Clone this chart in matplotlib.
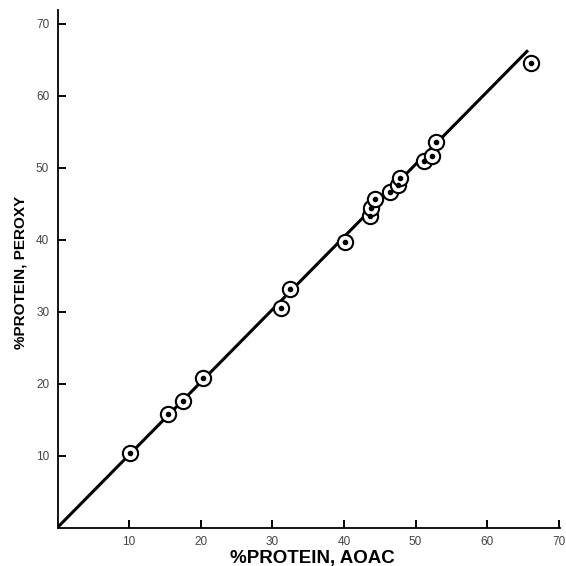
import numpy as np
import matplotlib
matplotlib.use("Agg")
import matplotlib.pyplot as plt

# % protein by AOAC method vs peroxy method
aoac = [10.1, 15.4, 17.5, 20.3, 31.2, 32.4, 40.2, 43.6, 43.8, 44.4,
        46.5, 47.6, 47.8, 51.2, 52.3, 52.8, 66.1]
peroxy = [10.3, 15.8, 17.6, 20.8, 30.5, 33.2, 39.7, 43.3, 44.4, 45.6,
          46.6, 47.6, 48.6, 50.9, 51.6, 53.6, 64.6]

fit_x = [0, 65.7]
fit_y = [0, 66.3]

ticks = [10, 20, 30, 40, 50, 60, 70]

plt.rcParams['font.family'] = ['Liberation Sans', 'DejaVu Sans']

fig = plt.figure(figsize=(5.66, 5.66), dpi=100)
ax = fig.add_axes([57.5/566, 1-527.5/566, 502/566, 517.5/566])

ax.plot(fit_x, fit_y, color='black', lw=2.2, solid_capstyle='butt', zorder=2)
ax.plot(aoac, peroxy, 'o', ms=11, mfc='white', mec='black', mew=1.5, zorder=3)
ax.plot(aoac, peroxy, 'o', ms=3, color='black', zorder=4)

ax.set_xlim(0, 70.1)
ax.set_ylim(0, 71.9)
ax.set_xticks(ticks)
ax.set_yticks(ticks)
ax.tick_params(direction='in', length=6, width=1.4, labelsize=8.5,
               labelcolor='#444444', pad=6)
for s in ['top', 'right']:
    ax.spines[s].set_visible(False)
for s in ['left', 'bottom']:
    ax.spines[s].set_linewidth(1.3)

# axis titles placed by hand so the bottom one sits at the edge like the scan
fig.text(312/566, 2.5/566, '%PROTEIN, AOAC', fontsize=13.5, fontweight='bold',
         ha='center', va='baseline')
fig.text(21/566, 1-272/566, '%PROTEIN, PEROXY', fontsize=11, fontweight='bold',
         ha='center', va='center', rotation=90)

fig.savefig('out.png', dpi=100)
